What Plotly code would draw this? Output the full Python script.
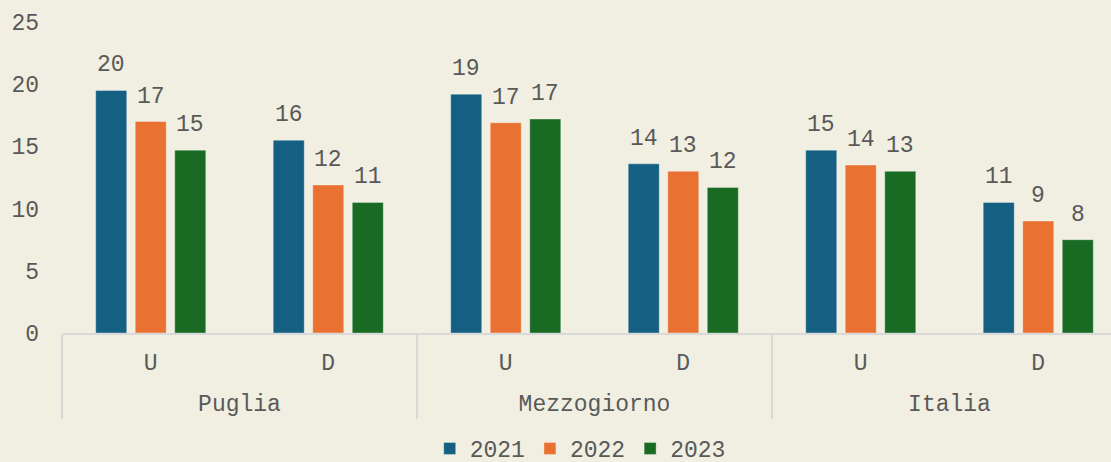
import math
import plotly.graph_objects as go

groups = ["Puglia", "Puglia", "Mezzogiorno", "Mezzogiorno", "Italia", "Italia"]
subs = ["U", "D", "U", "D", "U", "D"]
years = ["2021", "2022", "2023"]
v2021 = [19.5, 15.5, 19.2, 13.6, 14.7, 10.5]
v2022 = [17.0, 11.9, 16.9, 13.0, 13.5, 9.0]
v2023 = [14.7, 10.5, 17.2, 11.7, 13.0, 7.5]
series = [v2021, v2022, v2023]
colors = ["#156082", "#E97132", "#196B24"]

FONT = "Courier New, Liberation Mono, monospace"
TXT = "#595959"
BG = "#f1efe1"
BARGAP = 0.332
BARGROUPGAP = 0.215

# invisible tall padding so the second label level sits lower
PAD = '<span style="font-size:41px"> </span>'
sub_labels = [PAD + s + PAD for s in subs]

fig = go.Figure()
for name, vals, col in zip(years, series, colors):
    fig.add_trace(go.Bar(
        x=[groups, sub_labels], y=vals, name=name,
        marker=dict(color=col, line=dict(color="rgba(255,255,255,0.35)", width=1)),
    ))

annotations = []
slot = (1 - BARGAP) / len(series)
for k, vals in enumerate(series):
    for i, v in enumerate(vals):
        annotations.append(dict(
            x=i + (k - (len(series) - 1) / 2) * slot, y=v, xref="x", yref="y",
            text=str(math.floor(v + 0.5)), showarrow=False,
            yanchor="bottom", yshift=10,
            font=dict(family=FONT, size=23, color=TXT),
        ))

fig.update_layout(
    width=1111, height=470,
    paper_bgcolor=BG, plot_bgcolor=BG,
    margin=dict(l=62, r=0, t=22, b=137),
    barmode="group", bargap=BARGAP, bargroupgap=BARGROUPGAP,
    font=dict(family=FONT, size=23, color=TXT),
    annotations=annotations,
    showlegend=True,
    legend=dict(orientation="h", x=0.494, xanchor="center", yref="container",
                y=0, yanchor="bottom", font=dict(family=FONT, size=23, color=TXT),
                bgcolor="rgba(0,0,0,0)"),
)
fig.update_xaxes(
    type="multicategory", range=[-0.5, 5.5 - 16 / 177.5], automargin=False,
    showline=True, linecolor="#d9d9d9", linewidth=2,
    showdividers=True, dividercolor="#d9d9d9", dividerwidth=1.5,
    ticks="", showgrid=False, ticklabelstandoff=7,
    tickfont=dict(family=FONT, size=23, color=TXT),
)
fig.update_yaxes(
    range=[0, 25], dtick=5, showgrid=False, zeroline=False, showline=False,
    automargin=False, ticklabelstandoff=22, tickfont=dict(family=FONT, size=23, color=TXT),
)

fig.write_html(
    "out.html",
    config={"displayModeBar": False},
    post_script="document.body.style.margin='0';document.body.style.padding='0';"
                "document.body.style.overflow='hidden';"
                "document.documentElement.style.overflow='hidden';"
                "document.body.style.background='" + BG + "';",
)
